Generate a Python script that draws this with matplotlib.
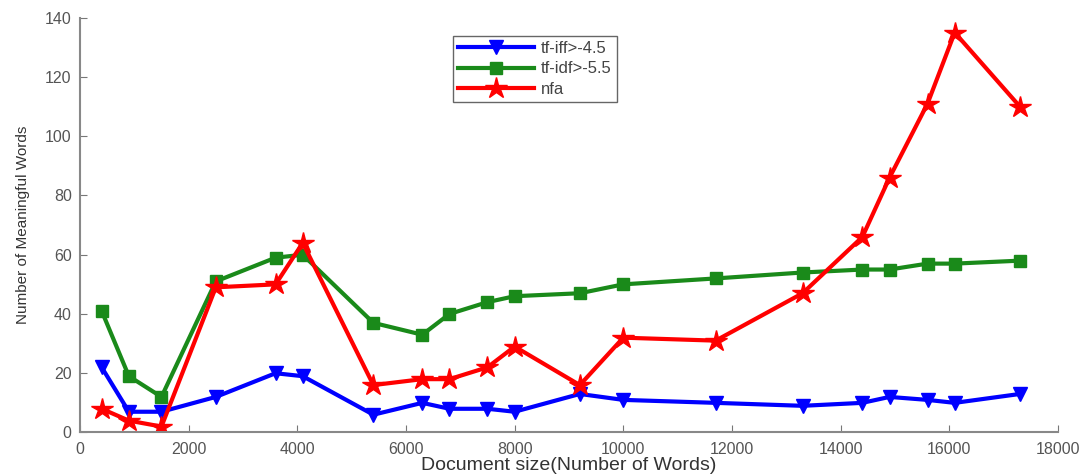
import matplotlib.pyplot as plt

plt.rcParams['font.family'] = ['Liberation Sans', 'DejaVu Sans']

doc_size = [400, 900, 1500, 2500, 3600, 4100, 5400, 6300, 6800, 7500,
            8000, 9200, 10000, 11700, 13300, 14400, 14900, 15600, 16100, 17300]
tf_iff = [22, 7, 7, 12, 20, 19, 6, 10, 8, 8,
          7, 13, 11, 10, 9, 10, 12, 11, 10, 13]
tf_idf = [41, 19, 12, 51, 59, 60, 37, 33, 40, 44,
          46, 47, 50, 52, 54, 55, 55, 57, 57, 58]
nfa = [8, 4, 2, 49, 50, 64, 16, 18, 18, 22,
       29, 16, 32, 31, 47, 66, 86, 111, 135, 110]
labels = ['tf-iff>-4.5', 'tf-idf>-5.5', 'nfa']

fig = plt.figure(figsize=(10.91, 4.74), dpi=100)
ax = fig.add_axes([0.0733, 0.0876, 0.8964, 0.875])

ax.plot(doc_size, tf_iff, color='#0000ff', lw=3, marker='v', ms=10, label=labels[0])
ax.plot(doc_size, tf_idf, color='#1a8a1a', lw=3, marker='s', ms=8, label=labels[1])
ax.plot(doc_size, nfa, color='#ff0000', lw=3, marker='*', ms=16, label=labels[2])

ax.set_xlim(0, 18000)
ax.set_ylim(0, 140)
ax.set_xticks(range(0, 18001, 2000))
ax.set_yticks(range(0, 141, 20))
ax.tick_params(direction='in', length=5, labelsize=11.5, labelcolor='#555555',
               color='#777777')
ax.tick_params(axis='y', pad=6)
ax.tick_params(axis='x', pad=7)
for side in ['top', 'right']:
    ax.spines[side].set_visible(False)
for side in ['left', 'bottom']:
    ax.spines[side].set_color('#888888')
    ax.spines[side].set_linewidth(1.5)

ax.set_xlabel('Document size(Number of Words)', fontsize=14, labelpad=0, color='#333333')
ax.set_ylabel('Number of Meaningful Words', fontsize=11, labelpad=11, color='#333333')

leg = ax.legend(loc='upper left', bbox_to_anchor=(0.381, 0.957), fontsize=12,
                fancybox=False, edgecolor='#666666', framealpha=1,
                handlelength=4.6, handletextpad=0.4, borderpad=0.3,
                labelspacing=0.35, borderaxespad=0)
for t in leg.get_texts():
    t.set_color('#444444')

plt.savefig('out.png')
